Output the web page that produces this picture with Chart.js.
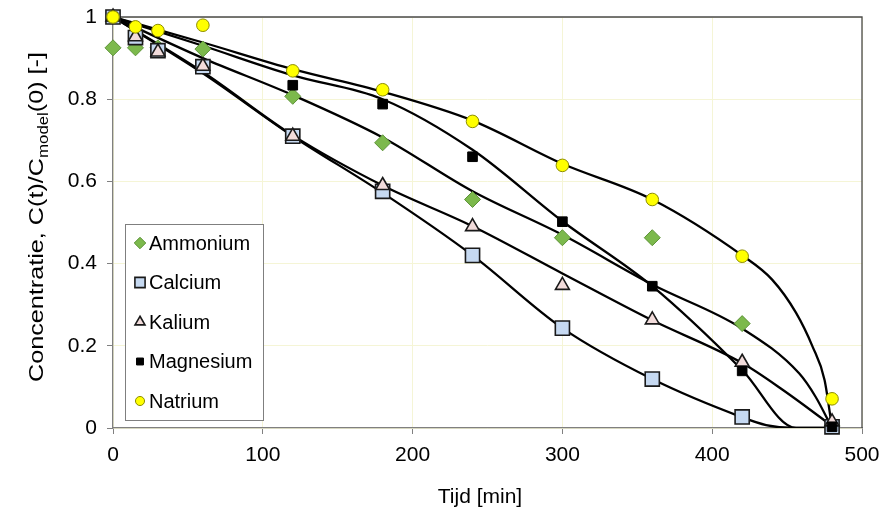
<!DOCTYPE html>
<html>
<head>
<meta charset="utf-8">
<script src="https://cdn.jsdelivr.net/npm/chart.js@4.4.1/dist/chart.umd.min.js"></script>
<style>
  html, body { margin: 0; padding: 0; background: #fff; }
</style>
</head>
<body>
<canvas id="grafiek" width="884" height="512"></canvas>
<script>
// meetpunten
const tijdMeting = [0, 15, 30, 60, 120, 180, 240, 300, 360, 420, 480];
const ammonium  = [0.925, 0.925, 0.925, 0.922, 0.807, 0.694, 0.556, 0.463, 0.463, 0.254, 0.005];
const calcium   = [1, 0.95, 0.918, 0.879, 0.71, 0.576, 0.42, 0.243, 0.119, 0.027, 0.003];
const kalium    = [1, 0.952, 0.915, 0.88, 0.71, 0.59, 0.49, 0.347, 0.263, 0.16, 0.015];
const magnesium = [1, null, null, null, 0.834, 0.788, 0.66, 0.502, 0.345, 0.139, 0.003];
const natrium   = [1, 0.976, 0.967, 0.98, 0.869, 0.823, 0.746, 0.639, 0.556, 0.418, 0.071];

const ammoniumModelTijd = [0, 60, 120, 180, 240, 300, 360, 420, 458, 469, 480];
const ammoniumModel     = [1, 0.9, 0.81, 0.707, 0.576, 0.47, 0.349, 0.242, 0.133, 0.076, 0];
const calciumModelTijd  = [0, 60, 120, 180, 240, 300, 360, 420, 436, 455, 480];
const calciumModel      = [1, 0.863, 0.71, 0.572, 0.42, 0.243, 0.119, 0.026, 0.007, 0, 0];
const kaliumModelTijd   = [0, 60, 120, 180, 240, 300, 360, 420, 447, 480];
const kaliumModel       = [1, 0.866, 0.712, 0.59, 0.491, 0.376, 0.262, 0.158, 0.093, 0.005];
const magnesiumModelTijd = [0, 60, 120, 180, 240, 300, 360, 420, 456, 480];
const magnesiumModel     = [1, 0.93, 0.858, 0.8, 0.677, 0.503, 0.345, 0.141, 0, 0];
const natriumModelTijd  = [0, 60, 120, 180, 240, 300, 360, 420, 440, 456, 467, 475, 480];
const natriumModel      = [1, 0.938, 0.873, 0.818, 0.748, 0.643, 0.556, 0.42, 0.361, 0.28, 0.198, 0.117, 0];

const xTicks = [0, 100, 200, 300, 400, 500];
const yTicks = [0, 0.2, 0.4, 0.6, 0.8, 1];

const FONT = "'Liberation Sans', Arial, sans-serif";

function punten(xs, ys) {
  return xs.map((x, i) => ({ x: x, y: ys[i] })).filter(p => p.y !== null);
}

const reeksen = [
  { label: 'Ammonium', data: ammonium, style: 'rectRot', r: 8, fill: '#7cb94c', rand: '#5c9237', bw: 1, z: 5 },
  { label: 'Calcium', data: calcium, style: 'rect', r: 10, fill: '#c6d9f1', rand: '#1a1a1a', bw: 1.6, z: 4 },
  { label: 'Kalium', data: kalium, style: 'triangle', r: 8, fill: '#f2dcdb', rand: '#1a1a1a', bw: 1.6, z: 3 },
  { label: 'Magnesium', data: magnesium, style: 'rect', r: 6.8, fill: '#000000', rand: '#000000', bw: 1, z: 2 },
  { label: 'Natrium', data: natrium, style: 'circle', r: 6.3, fill: '#ffff00', rand: '#8c8c00', bw: 1, z: 1 }
];

const modellen = [
  [ammoniumModelTijd, ammoniumModel],
  [calciumModelTijd, calciumModel],
  [kaliumModelTijd, kaliumModel],
  [magnesiumModelTijd, magnesiumModel],
  [natriumModelTijd, natriumModel]
];

const datasets = [];
reeksen.forEach(s => {
  datasets.push({
    label: s.label,
    data: punten(tijdMeting, s.data),
    showLine: false,
    pointStyle: s.style,
    pointRadius: s.r,
    pointBackgroundColor: s.fill,
    pointBorderColor: s.rand,
    pointBorderWidth: s.bw,
    clip: false,
    order: s.z
  });
});
modellen.forEach(m => {
  datasets.push({
    label: '',
    data: punten(m[0], m[1]),
    showLine: true,
    borderColor: '#000',
    borderWidth: 2.3,
    pointRadius: 0,
    cubicInterpolationMode: 'monotone',
    fill: false,
    order: 10
  });
});

const kader = {
  id: 'kader',
  beforeDatasetsDraw(chart) {
    const { ctx, chartArea: a } = chart;
    ctx.save();
    ctx.strokeStyle = '#4a4a4a';
    ctx.lineWidth = 1.3;
    ctx.beginPath();
    ctx.moveTo(a.left, a.top);
    ctx.lineTo(a.right, a.top);
    ctx.lineTo(a.right, a.bottom);
    ctx.stroke();
    ctx.restore();
  },
  afterDraw(chart) {
    const { ctx } = chart;
    ctx.save();
    // legenda
    const lx = 125, ly = 224, lw = 138, lh = 196;
    ctx.fillStyle = '#fff';
    ctx.fillRect(lx, ly, lw, lh);
    ctx.strokeStyle = '#7f7f7f';
    ctx.lineWidth = 1;
    ctx.strokeRect(lx + 0.5, ly + 0.5, lw, lh);
    ctx.font = '20px ' + FONT;
    ctx.textBaseline = 'middle';
    reeksen.forEach((s, i) => {
      const y = 243 + i * 39.5;
      ctx.fillStyle = s.fill;
      ctx.strokeStyle = s.rand;
      ctx.lineWidth = s.bw;
      Chart.helpers.drawPoint(ctx, { pointStyle: s.style, radius: s.r * 0.72, rotation: 0, borderWidth: s.bw }, 140, y);
      ctx.fillStyle = '#000';
      ctx.textAlign = 'left';
      ctx.fillText(s.label, 149, y + 1);
    });

    // x-as titel
    ctx.fillStyle = '#000';
    ctx.textAlign = 'center';
    ctx.textBaseline = 'middle';
    ctx.font = '21px ' + FONT;
    ctx.fillText('Tijd [min]', 480, 497);

    // y-as titel met subscript
    const deel1 = 'Concentratie, C(t)/C';
    const sub = 'model';
    const deel2 = '(0) [-]';
    ctx.font = '21px ' + FONT;
    const w1 = ctx.measureText(deel1).width;
    const w3 = ctx.measureText(deel2).width;
    ctx.font = '14px ' + FONT;
    const w2 = ctx.measureText(sub).width;
    const totaal = w1 + w2 + w3;
    ctx.translate(43, 217);
    ctx.rotate(-Math.PI / 2);
    ctx.scale(1.2, 1);
    ctx.textAlign = 'left';
    ctx.textBaseline = 'alphabetic';
    let x = -totaal / 2;
    ctx.font = '21px ' + FONT;
    ctx.fillText(deel1, x, 0);
    x += w1;
    ctx.font = '14px ' + FONT;
    ctx.fillText(sub, x, 5);
    x += w2;
    ctx.font = '21px ' + FONT;
    ctx.fillText(deel2, x, 0);
    ctx.restore();
  }
};

new Chart(document.getElementById('grafiek'), {
  type: 'scatter',
  data: { datasets: datasets },
  options: {
    responsive: false,
    animation: false,
    events: [],
    layout: { padding: { left: 0, right: 22, top: 17, bottom: 0 } },
    plugins: { legend: { display: false }, tooltip: { enabled: false } },
    scales: {
      x: {
        type: 'linear',
        min: 0, max: 500,
        afterBuildTicks: s => { s.ticks = xTicks.map(v => ({ value: v })); },
        afterFit: s => { s.height = 84; s.paddingLeft = 0; s.paddingRight = 0; },
        grid: { color: '#f5f5d6', tickColor: '#808080', tickLength: 6, lineWidth: 1 },
        border: { color: '#808080', width: 1.3 },
        ticks: { color: '#000', font: { family: FONT, size: 21 }, padding: 9, maxRotation: 0 }
      },
      y: {
        type: 'linear',
        min: 0, max: 1,
        afterBuildTicks: s => { s.ticks = yTicks.map(v => ({ value: v })); },
        afterFit: s => { s.width = 113; s.paddingTop = 0; s.paddingBottom = 0; },
        grid: { color: '#f5f5d6', tickColor: '#808080', tickLength: 6, lineWidth: 1 },
        border: { color: '#808080', width: 1.3 },
        ticks: {
          color: '#000', font: { family: FONT, size: 21 }, padding: 10,
          callback: v => String(Math.round(v * 10) / 10)
        }
      }
    }
  },
  plugins: [kader]
});
</script>
</body>
</html>
